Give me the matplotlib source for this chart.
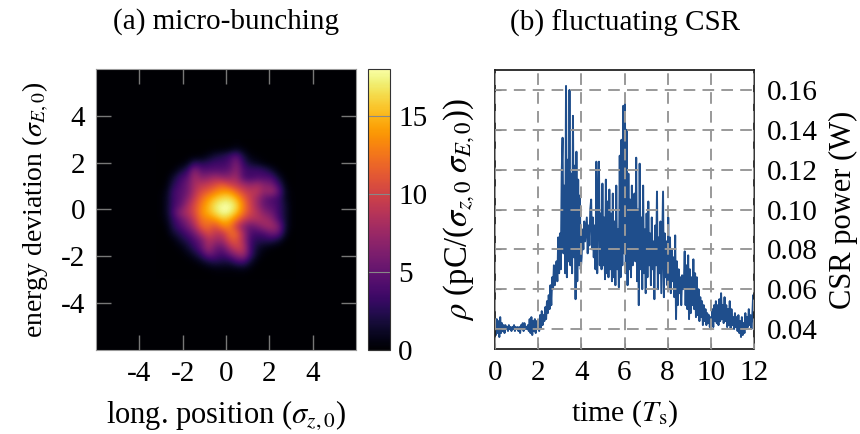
import matplotlib
matplotlib.use("Agg")
import matplotlib.pyplot as plt
import numpy as np

plt.rcParams['font.family'] = ['Liberation Serif', 'DejaVu Serif']
plt.rcParams['mathtext.fontset'] = 'stix'
plt.rcParams['axes.unicode_minus'] = False

##### phase space density, central region only (rows top to bottom)
density = [
    [0, 0, 0, 0, 0, 0, 0, 0, 0, 0, 0, .2, 0, 0, 0, 0, 0, 0, 0, 0],
    [0, 0, 0, 0, 0, 0, 0, .1, .2, .3, .5, 1, .5, .1, 0, 0, 0, 0, 0, 0],
    [0, 0, 0, 0, .1, .2, .3, 1, 2, 2.5, 3.5, 5, 2, .5, .2, .1, 0, 0, 0, 0],
    [0, 0, 0, .2, .7, 3, 2.5, 3, 3.5, 3.5, 4, 6.5, 3, 1.5, 1, .3, .1, 0, 0, 0],
    [0, 0, .3, 1.5, 3, 7, 4.5, 4.5, 4.5, 4.5, 5, 7, 4, 3.5, 3.5, 3, 1.5, .3, 0, 0],
    [0, .1, 1.5, 3.5, 4.5, 8, 6.5, 7, 8, 7, 7, 8, 4, 3.5, 4, 4, 4, 1.5, .2, 0],
    [0, .3, 2.5, 4, 5.5, 8, 9, 9.5, 10.5, 11.5, 10, 9, 8, 7, 8, 6.5, 6, 3.5, .5, 0],
    [.1, .7, 3.5, 4.5, 5.5, 8.5, 10.5, 11.5, 13, 14, 14, 12, 10, 9, 9, 7, 8, 5, 1, .1],
    [.1, 1, 3.5, 4.5, 6.5, 9.5, 12, 14, 15.5, 16.5, 16.5, 15, 12, 9.5, 7.5, 5, 4, 3.5, 1, .1],
    [.1, 1, 3.5, 5, 8, 10.5, 13, 15, 17, 18, 18, 16.5, 13, 10, 7.5, 5, 4.5, 3.5, 1.5, .1],
    [.1, 1, 4, 7, 8.5, 10.5, 13.5, 15, 16.5, 18, 17.5, 15.5, 12.5, 10, 8.5, 6.5, 5.5, 3.5, 1.5, .1],
    [.1, .7, 3, 5, 7, 9.5, 12.5, 13, 14, 15.5, 15, 12.5, 10, 8.5, 8.5, 8, 7, 4, 1.5, .1],
    [0, .3, 2.5, 4, 5.5, 8, 11.5, 12, 10.5, 13, 13, 9.5, 6.5, 5, 6, 7.5, 8, 6.5, 1.5, .1],
    [0, .1, 1.5, 2.5, 4, 5.5, 8.5, 10.5, 9, 9, 12, 12, 8, 4, 3.5, 4, 5.5, 5, 1, 0],
    [0, 0, .3, 1.5, 2.5, 4, 5.5, 8.5, 7.5, 7.5, 10.5, 11, 8, 3.5, 2.5, 2.5, 2.5, 1.5, .2, 0],
    [0, 0, .1, .4, 1.5, 3, 5, 8, 5.5, 5, 8, 10, 9, 3.5, 1.5, .7, .3, .1, 0, 0],
    [0, 0, 0, .1, .5, 1.5, 3, 5.5, 4.5, 3.5, 5, 7, 8, 3.5, 1, .2, 0, 0, 0, 0],
    [0, 0, 0, 0, .1, .3, 1, 2, 2.5, 2, 2, 3.5, 4, 1.5, .3, 0, 0, 0, 0, 0],
    [0, 0, 0, 0, 0, 0, .1, .3, .5, .5, .5, .6, .8, .4, 0, 0, 0, 0, 0, 0],
    [0, 0, 0, 0, 0, 0, 0, 0, .1, .1, .1, .1, .1, 0, 0, 0, 0, 0, 0, 0],
]

##### CSR power in mW, one row per synchrotron period
power_mw = [
    41, 37, 45, 38, 44, 36, 46, 38, 43, 39, 42, 38, 42, 40, 41, 39, 42, 40, 41, 39, 41, 40, 42, 39, 41,
    40, 41, 39, 41, 38, 42, 40, 43, 39, 43, 40, 41, 40, 42, 39, 45, 38, 46, 37, 44, 39, 45, 38, 44, 40,
    42, 39, 47, 40, 49, 42, 47, 44, 51, 45, 54, 48, 57, 50, 62, 52, 66, 60, 72, 62, 66, 74, 64, 86, 68,
    88, 70, 118, 136, 78, 112, 68, 162, 66, 125, 74, 160, 72, 118, 68, 147, 76, 122, 55, 129, 64, 115, 72, 107, 70,
    76, 90, 80, 94, 84, 90, 96, 78, 92, 82, 100, 105, 80, 96, 76, 92, 70, 124, 68, 100, 124, 72, 98, 70, 113,
    72, 96, 65, 115, 68, 104, 66, 110, 70, 98, 64, 108, 66, 94, 62, 112, 70, 90, 61, 127, 66, 135, 72, 152, 78,
    153, 68, 140, 62, 118, 70, 105, 66, 112, 72, 92, 108, 74, 126, 64, 100, 52, 123, 70, 96, 60, 112, 68, 90, 58,
    98, 66, 104, 72, 88, 62, 96, 70, 84, 55, 92, 72, 109, 60, 86, 68, 94, 58, 82, 109, 56, 88, 66, 84, 62,
    96, 60, 86, 58, 80, 64, 76, 56, 87, 45, 74, 52, 70, 58, 66, 52, 67, 60, 62, 79, 52, 72, 50, 77, 45,
    70, 48, 66, 52, 75, 50, 68, 46, 66, 47, 60, 44, 56, 46, 54, 42, 52, 44, 50, 42, 48, 43, 47, 41, 46,
    42, 50, 41, 52, 44, 54, 43, 52, 42, 55, 44, 58, 45, 52, 43, 56, 44, 52, 41, 50, 42, 54, 40, 50, 42,
    46, 40, 48, 41, 46, 39, 47, 38, 44, 36, 46, 37, 43, 38, 48, 40, 46, 41, 50, 42, 47, 40, 46, 57, 42,
]

phase_ticks = [-4, -2, 0, 2, 4]
cbar_ticks = [0, 5, 10, 15]
time_ticks = [0, 2, 4, 6, 8, 10, 12]
power_ticks = [0.04, 0.06, 0.08, 0.10, 0.12, 0.14, 0.16]

W, H = 860, 434
fs = 21


def place(x0, y0, x1, y1):
    return fig.add_axes([x0 / W, 1 - y1 / H, (x1 - x0) / W, (y1 - y0) / H])


fig = plt.figure(figsize=(8.6, 4.34), dpi=100)

##### (a) micro-bunching
ax1 = place(96, 69, 356, 350)
cmap = plt.get_cmap('inferno')
im = ax1.imshow(density, cmap=cmap, vmin=0, vmax=18, extent=[-3.23, 3.23, -3.0, 3.0],
                interpolation='bicubic', aspect='auto')
ax1.set_facecolor(cmap(0))
ax1.set_xlim(-6, 6)
ax1.set_ylim(-6.03, 6.03)
ax1.set_xticks(phase_ticks)
ax1.set_yticks(phase_ticks)
ax1.tick_params(top=True, right=True, direction='in', length=11, width=1, color='#777777',
                labelsize=fs, pad=8)
for s in ax1.spines.values():
    s.set_color('#999999')
ax1.set_xlabel(r'long. position ($\sigma_{z,0}$)', fontsize=22, labelpad=8)
ax1.set_ylabel(r'energy deviation ($\sigma_{E,0}$)', fontsize=20, labelpad=7)
ax1.set_title('(a) micro-bunching', fontsize=fs, pad=29)

cax = place(368, 69, 390, 350)
cb = fig.colorbar(im, cax=cax)
cb.set_ticks(cbar_ticks)
cax.tick_params(direction='in', length=16, width=0.8, color='#888888', labelsize=fs, pad=6)
cb.outline.set_edgecolor('#333333')

##### (b) fluctuating CSR
ax2 = place(495, 70, 754, 349)
ax2.set_xlim(0, 12)
ax2.set_ylim(0.03, 0.17)
ax2.set_xticks(time_ticks)
ax2.set_yticks(power_ticks)
ax2.tick_params(labelleft=False, direction='in', length=4, color='#888888', labelsize=fs, pad=8)
ax2.grid(True, color='#999999', lw=1.4, dashes=(6, 3.7))
ax2.set_axisbelow(False)
ax2.set_xlabel(r'time ($T_{\mathrm{s}}$)', fontsize=fs + 0.5, labelpad=9)
ax2.set_ylabel(r'$\rho$ (pC/($\sigma_{z,0}\;\sigma_{E,0}$))', fontsize=23.5, labelpad=13)
ax2.set_title('(b) fluctuating CSR', fontsize=fs, pad=28)
for s in ax2.spines.values():
    s.set_color('#222222')
    s.set_linewidth(1.3)

ax3 = ax2.twinx()
ax3.set_ylim(0.03, 0.17)
ax3.set_yticks(power_ticks)
ax3.set_yticklabels(['%.2f' % p for p in power_ticks])
ax3.tick_params(direction='in', length=0, labelsize=fs, pad=9)
ax3.set_ylabel('CSR power (W)', fontsize=22, labelpad=8)
ax3.spines[:].set_visible(False)

time = np.arange(len(power_mw)) * 12 / (len(power_mw) - 1)
ax2.plot(time, np.array(power_mw) / 1000, color='#1f4e8c', lw=1.4, zorder=1.5)

fig.savefig('out.png', dpi=100)
